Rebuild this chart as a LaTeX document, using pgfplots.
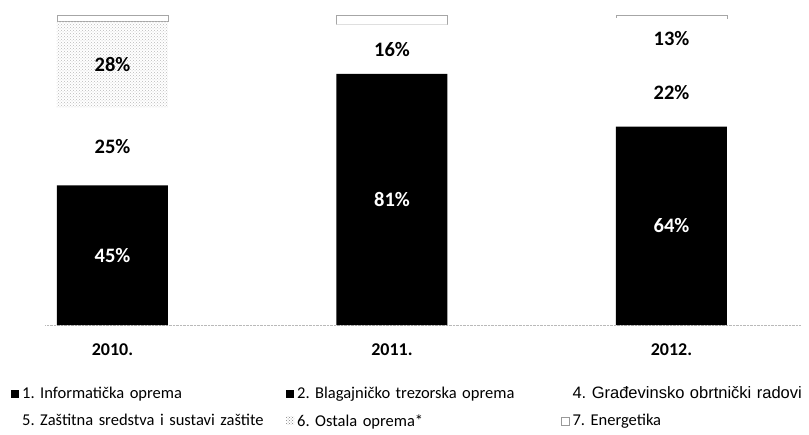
\documentclass[border=0pt]{standalone}
\usepackage{fontspec}
\setmainfont{Carlito}[WordSpace=0.8]
\newfontfamily\arialfont{Liberation Sans}
\usepackage{pgfplots}
\pgfplotsset{compat=1.18}
\usetikzlibrary{patterns}
\frenchspacing

\pgfplotsset{
  base/.style={
    at={(45.4pt,109pt)}, anchor=south west,
    scale only axis, width=754.65pt, height=310pt,
    xmin=-0.24, xmax=2.46, ymin=0, ymax=100,
    clip=false,
  },
  sq/.style={legend image code/.code={\path[#1] (0pt,-4pt) rectangle (8pt,4pt);}},
}
\tikzset{ent/.style={text width=#1, align=left, inner xsep=3pt}}

\begin{document}
\begin{tikzpicture}
\useasboundingbox (0,0) rectangle (809pt,434pt);
\begin{axis}[base, ybar stacked, bar width=111pt,
  axis y line=none, axis x line*=bottom,
  x axis line style={draw=gray!55, densely dotted, -},
  xtick={0,1,2}, xticklabels={2010.,2011.,2012.}, major tick length=0pt,
  xticklabel style={font=\fontsize{18}{20}\selectfont\bfseries, yshift=-15pt},
  ytick=\empty,
  legend columns=3,
  legend style={draw=none, fill=none, at={(-0.0496,-0.186)}, anchor=north west,
    font=\fontsize{16.5}{19}\selectfont, row sep=10pt},
  legend cell align=left,
]
% 1. Informaticka oprema
\addplot[fill=black, draw=none, sq={fill=black}] coordinates {(0,45) (1,81) (2,64)};
\addlegendentry[ent=261pt]{1. Informatička oprema}
% 2. Blagajnicko trezorska oprema
\addplot[fill=black, draw=none, sq={fill=black}] coordinates {(0,0) (1,0) (2,0)};
\addlegendentry[ent=261pt]{2. Blagajničko trezorska oprema}
% 4. Gradevinsko obrtnicki radovi
\addplot[fill=white, draw=none, sq={}] coordinates {(0,25) (1,16) (2,22)};
\addlegendentry[ent=236pt]{\arialfont 4. Građevinsko obrtnički radovi}
% 5. Zastitna sredstva i sustavi zastite
\addplot[fill=white, draw=none, sq={}] coordinates {(0,0) (1,0) (2,13)};
\addlegendentry[ent=261pt]{5. Zaštitna sredstva i sustavi zaštite}
% 6. Ostala oprema*
\addplot[pattern=crosshatch dots, pattern color=gray!55, draw=none,
  sq={pattern=crosshatch dots, pattern color=gray}] coordinates {(0,28) (1,0) (2,0)};
\addlegendentry[ent=261pt]{6. Ostala oprema*}
% 7. Energetika
\addplot[fill=white, draw=gray!70, thin, sq={fill=white, draw=gray!80}] coordinates {(0,2) (1,3) (2,1)};
\addlegendentry[ent=236pt]{7. Energetika}
\end{axis}
\begin{axis}[base, hide axis,
  every node near coord/.style={anchor=center, font=\fontsize{20.5}{22}\selectfont\bfseries}]
\addplot[draw=none, nodes near coords, point meta=explicit symbolic,
  every node near coord/.append style={text=white}]
  coordinates {(0,22.5)[45\%] (1,40.5)[81\%] (2,32)[64\%]};
\addplot[draw=none, nodes near coords, point meta=explicit symbolic,
  every node near coord/.append style={text=black}]
  coordinates {(0,57.5)[25\%] (0,84)[28\%] (1,89)[16\%] (2,75)[22\%] (2,92.5)[13\%]};
\end{axis}
\end{tikzpicture}
\end{document}
